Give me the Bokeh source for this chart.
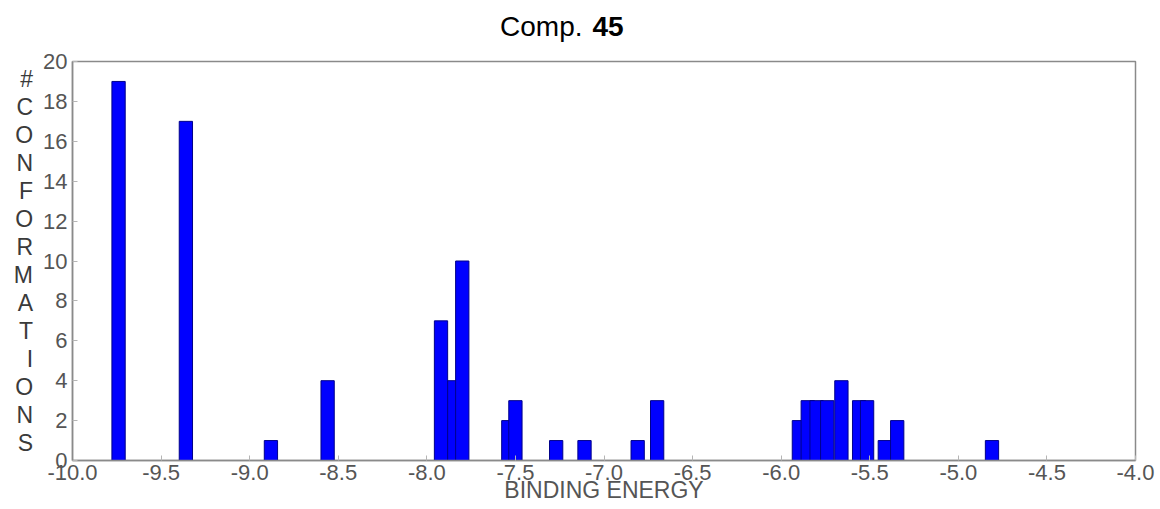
from bokeh.plotting import figure
from bokeh.models import Range1d, FixedTicker, NumeralTickFormatter, ColumnDataSource
from bokeh.layouts import column
from bokeh.core.properties import value
from bokeh.embed import file_html
from bokeh.resources import INLINE

# ---- data ----
energy = [-9.74, -9.36, -8.88, -8.56, -7.92, -7.845, -7.80, -7.54, -7.50, -7.27,
          -7.11, -6.81, -6.70, -5.90, -5.85, -5.80, -5.74, -5.66, -5.56, -5.515,
          -5.415, -5.345, -4.81]
count = [19, 17, 1, 4, 7, 4, 10, 2, 3, 1,
         1, 1, 3, 2, 3, 3, 3, 4, 3, 3,
         1, 2, 1]
x_ticks = [-10.0, -9.5, -9.0, -8.5, -8.0, -7.5, -7.0, -6.5, -6.0, -5.5, -5.0, -4.5, -4.0]
y_ticks = [0, 2, 4, 6, 8, 10, 12, 14, 16, 18, 20]
title_main = "Comp."
title_num = "45"
x_title = "BINDING ENERGY"
y_title = "# CONFORMATIONS"

FONT = "Liberation Sans"
AXIS_GRAY = "#8a8a8a"
LABEL_GRAY = "#555555"
W = 1160
TOP_H = 50
MAIN_H = 509 - TOP_H
FRAME_L, FRAME_R = 72, 1135   # frame edges in page pixels (column aligns frames)

# ---- title strip (mixed normal / bold text) ----
t = figure(width=W, height=TOP_H, output_backend="svg", toolbar_location=None,
           x_range=Range1d(FRAME_L, FRAME_R), y_range=Range1d(0, TOP_H), min_border=0,
           x_axis_location=None, y_axis_location=None)
t.grid.visible = False
t.outline_line_color = None
t.text(x=[582], y=[24], text=[title_main], text_align="right",
       text_baseline="alphabetic", text_font=value(FONT), text_font_size="28px",
       text_color="black")
t.text(x=[592], y=[24], text=[title_num], text_align="left",
       text_baseline="alphabetic", text_font=value(FONT), text_font_size="28px",
       text_font_style="bold", text_color="black")

# ---- main histogram ----
p = figure(width=W, height=MAIN_H, output_backend="svg", toolbar_location=None,
           x_range=Range1d(-10, -4), y_range=Range1d(0, 20),
           min_border=0, min_border_left=FRAME_L, min_border_right=W - FRAME_R,
           min_border_top=61 - TOP_H, min_border_bottom=49)
p.grid.visible = False
p.outline_line_color = AXIS_GRAY
p.outline_line_width = 1.5

src = ColumnDataSource(dict(x=energy, top=count))
p.vbar(x="x", top="top", bottom=0, width=0.075, source=src,
       fill_color="#0000FF", line_color="#00008a", line_width=1)

for ax, ticks, fmt in ((p.xaxis[0], x_ticks, "0.0"), (p.yaxis[0], y_ticks, "0")):
    ax.ticker = FixedTicker(ticks=ticks)
    ax.formatter = NumeralTickFormatter(format=fmt)
    ax.minor_tick_line_color = None
    ax.major_tick_in = 5
    ax.major_tick_out = 0
    ax.major_tick_line_color = "#b5b5b5"
    ax.axis_line_color = AXIS_GRAY
    ax.axis_line_width = 1.5
    ax.major_label_text_font = FONT
    ax.major_label_text_font_size = "22px"
    ax.major_label_text_color = LABEL_GRAY

xa = p.xaxis[0]
xa.major_label_standoff = 4
xa.axis_label = x_title
xa.axis_label_text_font = FONT
xa.axis_label_text_font_size = "23px"
xa.axis_label_text_font_style = "normal"
xa.axis_label_text_color = LABEL_GRAY
xa.axis_label_standoff = -6

ya = p.yaxis[0]
ya.major_label_standoff = 5
ya.axis_label = "\n".join(y_title.replace(" ", ""))
ya.axis_label_orientation = "horizontal"
ya.axis_label_text_font = FONT
ya.axis_label_text_font_size = "23px"
ya.axis_label_text_font_style = "normal"
ya.axis_label_text_line_height = 1.075
ya.axis_label_text_color = "#3a3a3a"
ya.axis_label_standoff = 7

layout = column(t, p, spacing=0)
open("out.html", "w").write(file_html(layout, INLINE))
